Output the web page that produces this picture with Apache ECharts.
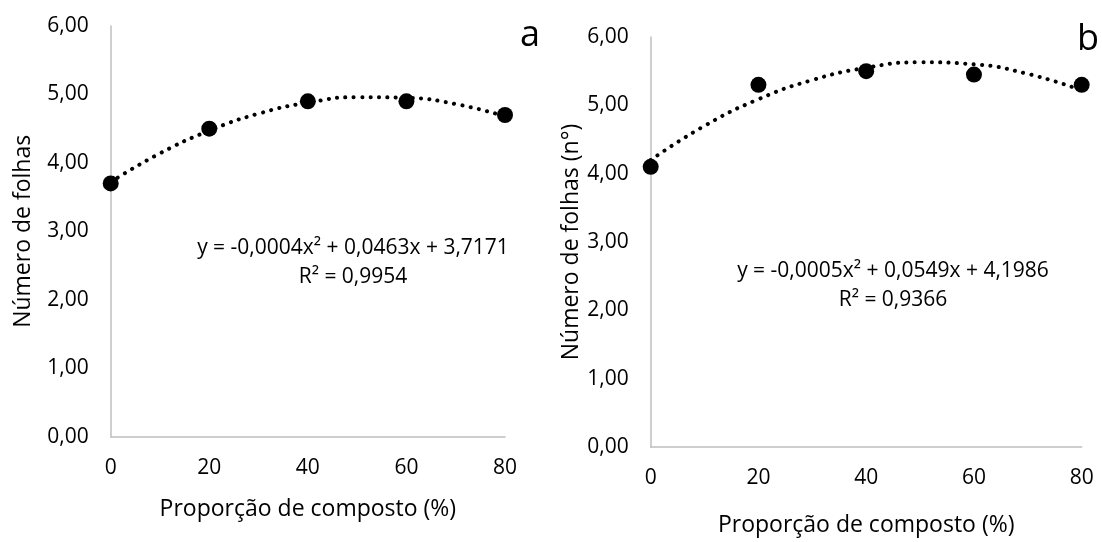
<!DOCTYPE html>
<html>
<head>
<meta charset="utf-8">
<script src="https://cdn.jsdelivr.net/npm/echarts@6/dist/echarts.min.js"></script>
<style>
  html, body { margin: 0; padding: 0; background: #fff; }
  #chart { width: 1102px; height: 542px; }
</style>
</head>
<body>
<div id="chart"></div>
<script>
// proporção de composto (%)
var xPoints = [0, 20, 40, 60, 80];
var folhasA = [3.7, 4.5, 4.9, 4.9, 4.7];
var folhasB = [4.1, 5.3, 5.5, 5.45, 5.3];

// linha de tendência (polinomial)
var xTrend = [0, 10, 20, 30, 40, 50, 60, 70, 80];
var trendA = [3.72, 4.14, 4.47, 4.72, 4.88, 4.96, 4.95, 4.86, 4.68];
var trendB = [4.20, 4.70, 5.09, 5.37, 5.55, 5.63, 5.60, 5.46, 5.22];

var yTicks = [0, 1, 2, 3, 4, 5, 6];
var eqA = ['y = -0,0004x² + 0,0463x + 3,7171', 'R² = 0,9954'];
var eqB = ['y = -0,0005x² + 0,0549x + 4,1986', 'R² = 0,9366'];

var FONT = '"Open Sans", "Noto Sans", sans-serif';
var AXIS_GREY = '#bfbfbf';

function pairs(xs, ys) {
  return xs.map(function (x, i) { return [x, ys[i]]; });
}

function xAxisCfg(idx, gap) {
  return {
    gridIndex: idx, type: 'value', min: 0, max: 80, interval: 20,
    name: 'Proporção de composto (%)', nameLocation: 'middle', nameGap: gap,
    nameTextStyle: { fontFamily: FONT, fontSize: 23, color: '#000' },
    axisLine: { show: true, lineStyle: { color: AXIS_GREY, width: 1.5 } },
    axisTick: { show: false },
    splitLine: { show: false },
    axisLabel: { margin: 21, fontFamily: FONT, fontSize: 21, color: '#000' }
  };
}

function yAxisCfg(idx, name, gap) {
  return {
    gridIndex: idx, type: 'value',
    min: yTicks[0], max: yTicks[yTicks.length - 1], interval: 1,
    name: name, nameLocation: 'middle', nameGap: gap,
    nameTextStyle: { fontFamily: FONT, fontSize: 23, color: '#000' },
    axisLine: { show: true, lineStyle: { color: AXIS_GREY, width: 1.5 } },
    axisTick: { show: false },
    splitLine: { show: false },
    axisLabel: {
      margin: 22, fontFamily: FONT, fontSize: 21, color: '#000',
      formatter: function (v) { return v.toFixed(2).replace('.', ','); }
    }
  };
}

function trendSeries(idx, ys) {
  return {
    type: 'line', xAxisIndex: idx, yAxisIndex: idx,
    data: pairs(xTrend, ys), smooth: true, showSymbol: false, silent: true,
    lineStyle: { color: '#000', width: 4, type: [0.1, 8.3], cap: 'round' },
    z: 2
  };
}

function pointSeries(idx, ys) {
  return {
    type: 'scatter', xAxisIndex: idx, yAxisIndex: idx,
    data: pairs(xPoints, ys), symbol: 'circle', symbolSize: 16,
    itemStyle: { color: '#000', opacity: 1 }, z: 3
  };
}

function eqText(cx, y, lines) {
  return {
    type: 'text', x: cx, y: y,
    style: {
      text: lines.join('\n'), fill: '#000', font: '21px ' + FONT,
      align: 'center', verticalAlign: 'middle', lineHeight: 29
    }
  };
}

var chart = echarts.init(document.getElementById('chart'));
chart.setOption({
  backgroundColor: '#fff',
  animation: false,
  grid: [
    { left: 110.7, right: 597, top: 26, bottom: 105.3 },
    { left: 650.7, right: 20.3, top: 37, bottom: 80.3 }
  ],
  xAxis: [xAxisCfg(0, 61), xAxisCfg(1, 67)],
  yAxis: [yAxisCfg(0, 'Número de folhas', 76), yAxisCfg(1, 'Número de folhas (n°)', 63)],
  series: [
    trendSeries(0, trendA), pointSeries(0, folhasA),
    trendSeries(1, trendB), pointSeries(1, folhasB)
  ],
  graphic: [
    eqText(353, 263, eqA),
    eqText(893, 286, eqB),
    { type: 'text', x: 530, y: 36, style: { text: 'a', fill: '#000', font: '36px ' + FONT, align: 'center', verticalAlign: 'middle' } },
    { type: 'text', x: 1088, y: 40, style: { text: 'b', fill: '#000', font: '36px ' + FONT, align: 'center', verticalAlign: 'middle' } }
  ]
});
</script>
</body>
</html>
